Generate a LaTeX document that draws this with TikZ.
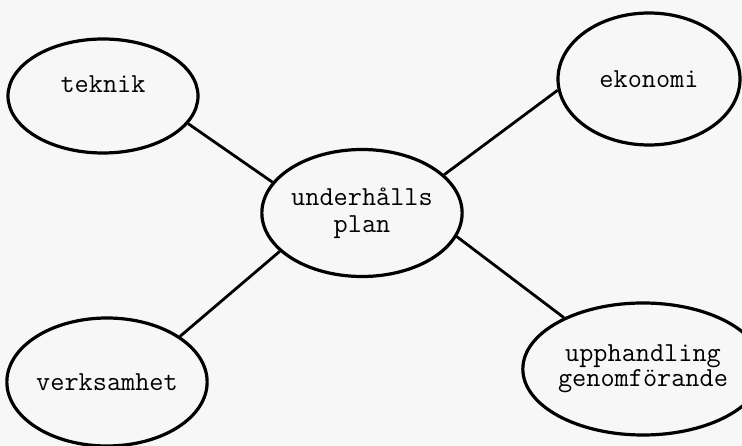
\documentclass[tikz,border=0pt]{standalone}
\usepackage{fontspec}
\usetikzlibrary{shapes.geometric}
\tikzset{omr/.style={draw, ellipse, line width=3.2pt, inner sep=0pt, align=center,
  font=\ttfamily\fontsize{27.5}{27}\selectfont},
  led/.style={line width=2.8pt}}
\begin{document}
\begin{tikzpicture}[x=1pt,y=-1pt]
		\fill[gray!6] (0,0) rectangle (742,446);
		\useasboundingbox (0,0) rectangle (742,446);
		\node[omr, minimum width=190pt, minimum height=114pt] (teknik) at (103,96) {teknik\\[-4pt]\mbox{}};
		\node[omr, minimum width=182pt, minimum height=132pt] (ekonomi) at (649,79) {ekonomi};
		\node[omr, minimum width=185pt, minimum height=127pt] (plan) at (362,213) {underhålls\\plan};
		\node[omr, minimum width=189pt, minimum height=128pt] (verks) at (107,382) {verksamhet};
		\node[omr, minimum width=183pt, minimum height=132pt] (upph) at (643,369) {upphandling\\[-2pt]genomförande};
		\draw[led] (teknik.-18) -- (plan.161);
		\draw[led] (ekonomi.187) -- (plan.25);
		\draw[led] (verks.32) -- (plan.205);
		\draw[led] (upph.147) -- (plan.-14);
	\end{tikzpicture}
\end{document}
